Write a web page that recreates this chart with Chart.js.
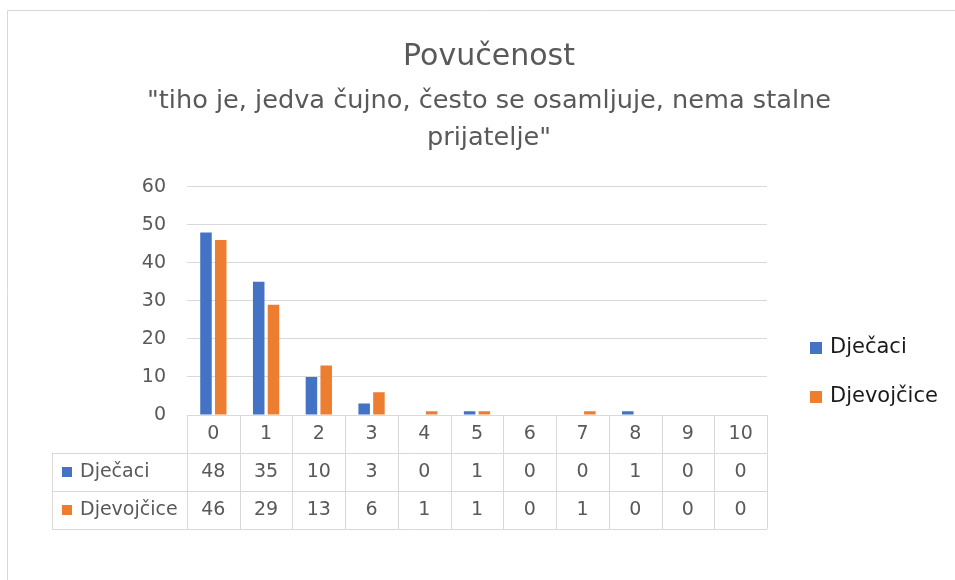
<!DOCTYPE html>
<html>
<head>
<meta charset="utf-8">
<script src="https://cdn.jsdelivr.net/npm/chart.js@4.4.1/dist/chart.umd.min.js"></script>
<style>
  html, body { margin: 0; padding: 0; background: #fff; overflow: hidden; }
  canvas { display: block; }
</style>
</head>
<body>
<canvas id="myChart" width="955" height="580"></canvas>
<script>
const categories = ["0", "1", "2", "3", "4", "5", "6", "7", "8", "9", "10"];
const boys = [48, 35, 10, 3, 0, 1, 0, 0, 1, 0, 0];
const girls = [46, 29, 13, 6, 1, 1, 0, 1, 0, 0, 0];
const seriesNames = ["Dječaci", "Djevojčice"];
const seriesColors = ["#4472C4", "#ED7D31"];
const yMax = 60;
const yStep = 10;

const FONT = "'DejaVu Sans', sans-serif";
const TEXT = "#595959";
const LINE = "#d9d9d9";

// draws the frame, the data table under the bars and the legend on the right
const tablePlugin = {
  id: "dataTable",
  beforeDraw(chart) {
    const c = chart.ctx;
    c.save();
    c.fillStyle = "#fff";
    c.fillRect(0, 0, chart.width, chart.height);
    c.strokeStyle = LINE;
    c.lineWidth = 1;
    c.beginPath();
    c.moveTo(7.5, chart.height);
    c.lineTo(7.5, 10.5);
    c.lineTo(chart.width, 10.5);
    c.stroke();
    c.restore();
  },
  afterDraw(chart) {
    const c = chart.ctx;
    const x = chart.scales.x;
    const area = chart.chartArea;
    const rowH = 38;
    const tableLeft = 52;
    const step = (area.right - area.left) / categories.length;
    const top = area.bottom;

    c.save();
    c.strokeStyle = LINE;
    c.lineWidth = 1;
    c.beginPath();
    // horizontal rules
    for (let r = 1; r <= 3; r++) {
      const y = Math.round(top + r * rowH) + 0.5;
      c.moveTo(tableLeft, y);
      c.lineTo(area.right, y);
    }
    // column rules
    for (let i = 0; i <= categories.length; i++) {
      const xx = Math.round(area.left + i * step) + 0.5;
      c.moveTo(xx, top);
      c.lineTo(xx, top + 3 * rowH);
    }
    c.moveTo(tableLeft + 0.5, top + rowH);
    c.lineTo(tableLeft + 0.5, top + 3 * rowH);
    c.stroke();

    c.fillStyle = TEXT;
    c.font = "19px " + FONT;
    c.textAlign = "center";
    c.textBaseline = "middle";
    categories.forEach((cat, i) => {
      c.fillText(cat, x.getPixelForValue(i), top + rowH / 2);
    });
    chart.data.datasets.forEach((ds, d) => {
      const yy = top + rowH * (d + 1.5);
      c.textAlign = "center";
      c.fillStyle = TEXT;
      ds.data.forEach((v, i) => {
        c.fillText(String(v), x.getPixelForValue(i), yy);
      });
      c.fillStyle = ds.backgroundColor;
      c.fillRect(62, yy - 5, 10, 10);
      c.fillStyle = TEXT;
      c.textAlign = "left";
      c.fillText(ds.label, 80, yy);
    });

    // legend
    c.font = "21px " + FONT;
    c.textAlign = "left";
    chart.data.datasets.forEach((ds, d) => {
      const yy = 348 + d * 49;
      c.fillStyle = ds.backgroundColor;
      c.fillRect(810, yy - 6, 12, 12);
      c.fillStyle = "#1a1a1a";
      c.fillText(ds.label, 830, yy);
    });
    c.restore();
  }
};

const ctx = document.querySelector("#myChart");

const myChart = new Chart(ctx, {
  type: "bar",
  data: {
    labels: categories,
    datasets: [
      { label: seriesNames[0], data: boys, backgroundColor: seriesColors[0] },
      { label: seriesNames[1], data: girls, backgroundColor: seriesColors[1] },
    ],
  },
  options: {
    responsive: false,
    animation: false,
    categoryPercentage: 0.56,
    barPercentage: 0.78,
    layout: {
      padding: { left: 23, right: 0, top: 0, bottom: 165 },
    },
    scales: {
      x: {
        display: false,
      },
      y: {
        min: 0,
        max: yMax,
        afterFit(scale) {
          scale.width = 164;
        },
        border: { display: false },
        grid: { color: LINE, drawTicks: false },
        ticks: {
          stepSize: yStep,
          padding: 21,
          color: TEXT,
          font: { family: FONT, size: 19 },
        },
      },
      // empty strip on the right that keeps room for the legend
      side: {
        position: "right",
        afterFit(scale) {
          scale.width = 188;
        },
        border: { display: false },
        grid: { display: false },
        ticks: { display: false },
      },
    },
    plugins: {
      legend: { display: false },
      tooltip: { enabled: false },
      title: {
        display: true,
        text: "Povučenost",
        color: TEXT,
        font: { family: FONT, size: 30, weight: "normal", lineHeight: 1.2 },
        padding: { top: 39, bottom: 7 },
      },
      subtitle: {
        display: true,
        text: ['"tiho je, jedva čujno, često se osamljuje, nema stalne', 'prijatelje"'],
        color: TEXT,
        font: { family: FONT, size: 25.6, weight: "normal", lineHeight: 1.48 },
        padding: { top: 0, bottom: 29 },
      },
    },
  },
  plugins: [tablePlugin],
});
</script>
</body>
</html>
